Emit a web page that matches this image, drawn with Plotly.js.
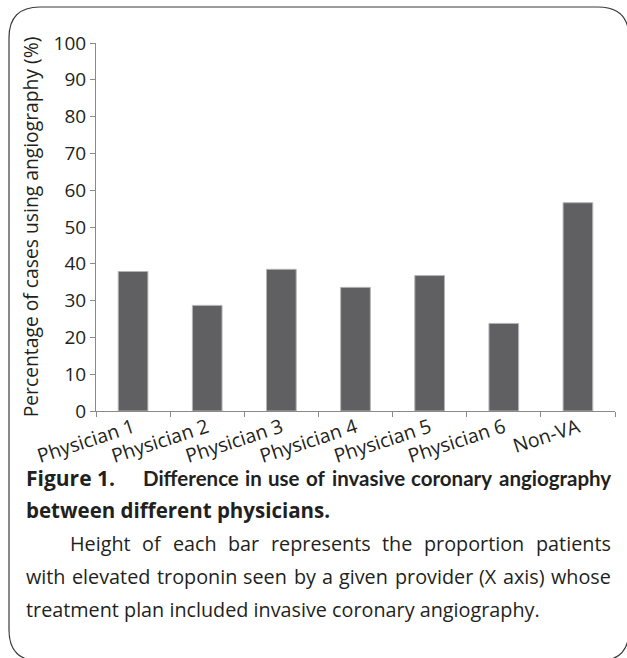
<!DOCTYPE html>
<html>
<head>
<meta charset="utf-8">
<script src="https://cdn.plot.ly/plotly-3.0.1.min.js"></script>
<style>
html,body{margin:0;padding:0;background:#fff;}
#chart{width:627px;height:658px;}
</style>
</head>
<body>
<div id="chart"></div>
<script>
// ---- data ----
const categories = ["Physician 1","Physician 2","Physician 3","Physician 4","Physician 5","Physician 6","Non-VA"];
const percentUsingAngiography = [37.9, 28.7, 38.5, 33.6, 36.8, 23.8, 56.6];
const yTickValues = [0,10,20,30,40,50,60,70,80,90,100];
const yAxisTitle = "Percentage of cases using angiography (%)";
const captionTitleLabel = "Figure 1.";
const captionTitleLine1 = "Difference in use of invasive coronary angiography";
const captionTitleLine2 = "between different physicians.";
const captionBody = [
  "Height of each bar represents the proportion patients",
  "with elevated troponin seen by a given provider (X axis) whose",
  "treatment plan included invasive coronary angiography."
];

// ---- geometry (pixels) ----
const W = 627, H = 658;
const L = 96, R = 12, T = 43, B = 247;
const plotW = W - L - R, plotH = H - T - B;
const px = x => (x - L) / plotW;
const py = y => (H - B - y) / plotH;

const FONT = "'Open Sans', 'Noto Sans', sans-serif";

// measure text for justification
const cv = document.createElement('canvas').getContext('2d');
function measure(text, size, bold, family) {
  cv.font = (bold ? 'bold ' : '') + size + 'px ' + family;
  return cv.measureText(text).width;
}

const annotations = [];
function addText(text, x, y, size, bold, family) {
  annotations.push({
    xref: 'paper', yref: 'paper', x: px(x), y: py(y),
    xanchor: 'left', yanchor: 'middle', showarrow: false,
    borderpad: 0, borderwidth: 0,
    text: bold ? '<b>' + text + '</b>' : text,
    font: {family: family, size: size, color: '#231f20'}
  });
}
function justify(line, x0, x1, y, size, bold, family) {
  const words = line.split(' ');
  const widths = words.map(w => measure(w, size, bold, family));
  const total = widths.reduce((a, b) => a + b, 0);
  const gap = words.length > 1 ? (x1 - x0 - total) / (words.length - 1) : 0;
  let x = x0;
  words.forEach((w, i) => {
    addText(w, x, y, size, bold, family);
    x += widths[i] + gap;
  });
}

const CAP_BOLD_WIDE = "'Open Sans', 'Noto Sans', sans-serif";
const CAP_BOLD_NARROW = "Lato, 'Open Sans', sans-serif";
const CAP_BODY = "'Open Sans', 'Noto Sans', sans-serif";
addText(captionTitleLabel, 26, 478, 21, true, CAP_BOLD_WIDE);
justify(captionTitleLine1, 143, 611, 478, 20.5, true, CAP_BOLD_NARROW);
addText(captionTitleLine2, 26, 510, 20.5, true, CAP_BOLD_WIDE);
justify(captionBody[0], 70, 611, 543, 19.8, false, CAP_BODY);
justify(captionBody[1], 26, 611, 576, 19.8, false, CAP_BODY);
addText(captionBody[2], 26, 609, 19.8, false, CAP_BODY);

// rounded frame
const fx0 = 9, fx1 = 629, fy0 = 7, fy1 = 661, r = 31;
const P = (x, y) => px(x) + ',' + py(y);
const framePath = 'M' + P(fx0 + r, fy0) + ' L' + P(fx1 - r, fy0) +
  ' Q' + P(fx1, fy0) + ' ' + P(fx1, fy0 + r) +
  ' L' + P(fx1, fy1 - r) + ' Q' + P(fx1, fy1) + ' ' + P(fx1 - r, fy1) +
  ' L' + P(fx0 + r, fy1) + ' Q' + P(fx0, fy1) + ' ' + P(fx0, fy1 - r) +
  ' L' + P(fx0, fy0 + r) + ' Q' + P(fx0, fy0) + ' ' + P(fx0 + r, fy0) + ' Z';

const trace = {
  type: 'bar',
  x: categories,
  y: percentUsingAngiography,
  marker: {color: '#606062', line: {color: '#b4b4b4', width: 1}},
  hoverinfo: 'x+y'
};

const layout = {
  width: W, height: H,
  margin: {l: L, r: R, t: T, b: B, pad: 0},
  paper_bgcolor: '#ffffff', plot_bgcolor: '#ffffff',
  showlegend: false,
  bargap: 0.6,
  font: {family: FONT, color: '#231f20'},
  xaxis: {
    type: 'category',
    showgrid: false, zeroline: false,
    showline: true, linecolor: '#8a8a8a', linewidth: 1,
    ticks: 'outside', ticklen: 5, tickcolor: '#8a8a8a',
    tickson: 'boundaries',
    tickangle: -18,
    ticklabelstandoff: -3,
    tickfont: {family: FONT, size: 19.5, color: '#231f20'},
    fixedrange: true
  },
  yaxis: {
    range: [0, 100],
    tickvals: yTickValues,
    showgrid: false, zeroline: false,
    showline: true, linecolor: '#8a8a8a', linewidth: 1,
    ticks: 'outside', ticklen: 5, tickcolor: '#8a8a8a',
    tickfont: {family: FONT, size: 19, color: '#231f20'},
    title: {text: yAxisTitle, font: {family: FONT, size: 19.3, color: '#231f20'}, standoff: 9},
    fixedrange: true
  },
  shapes: [{
    type: 'path', xref: 'paper', yref: 'paper', path: framePath,
    line: {color: '#3a3a3a', width: 1.2}, fillcolor: 'rgba(0,0,0,0)', layer: 'above'
  }],
  annotations: annotations
};

Plotly.newPlot('chart', [trace], layout, {displayModeBar: false, staticPlot: true});
</script>
</body>
</html>
